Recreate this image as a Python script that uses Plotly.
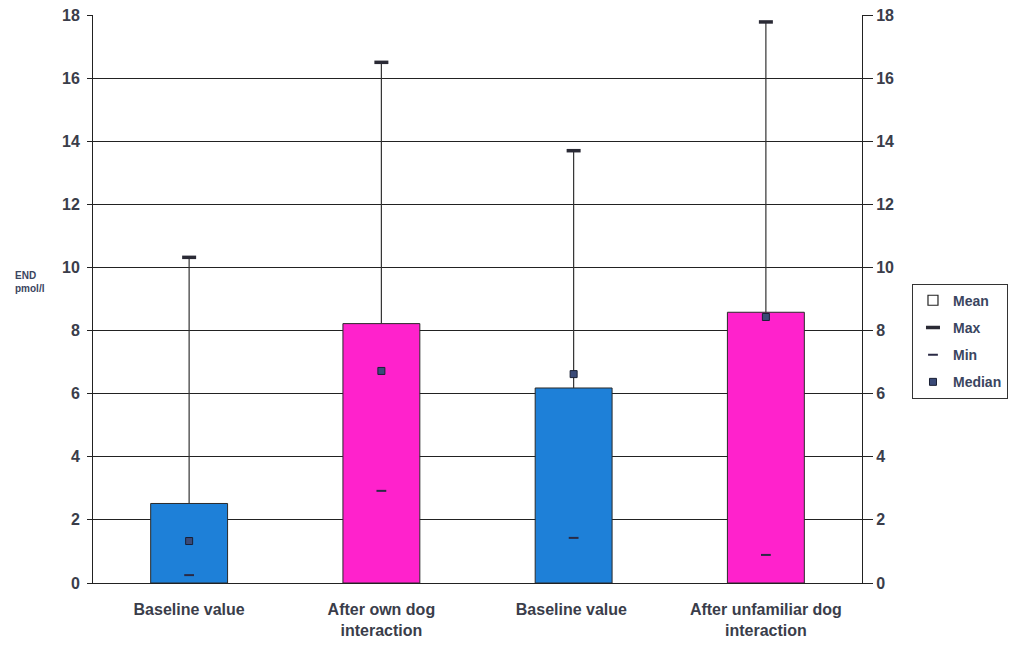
import plotly.graph_objects as go

# END (pmol/l) per condition
categories = ["Baseline value", "After own dog<br>interaction",
              "Baseline value ", "After unfamiliar dog<br>interaction"]
mean_vals = [2.52, 8.22, 6.18, 8.58]
max_vals = [10.32, 16.5, 13.7, 17.78]
min_vals = [0.25, 2.92, 1.43, 0.89]
median_vals = [1.33, 6.72, 6.62, 8.43]
bar_colors = ["#1e80d8", "#ff22cc", "#1e80d8", "#ff22cc"]
y_ticks = list(range(0, 19, 2))

text_col = "#3a3d4a"
font_main = "Liberation Sans, Arial, sans-serif"

fig = go.Figure()

# mean bars
fig.add_trace(go.Bar(
    x=categories, y=mean_vals, width=0.4,
    marker=dict(color=bar_colors, line=dict(color="#2a2a2a", width=1)),
    showlegend=False, hoverinfo="y",
))

# whiskers from mean up to max
wx, wy = [], []
for c, lo, hi in zip(categories, mean_vals, max_vals):
    wx += [c, c, None]
    wy += [lo, hi, None]
fig.add_trace(go.Scatter(x=wx, y=wy, mode="lines",
                         line=dict(color="#333333", width=1.2),
                         showlegend=False, hoverinfo="skip"))

# legend-only entry for the mean bars
fig.add_trace(go.Scatter(x=[None], y=[None], mode="markers", name="Mean",
                         legendgroup="a",
                         marker=dict(symbol="square", size=10, color="white",
                                     line=dict(color="#222", width=1.2))))

fig.add_trace(go.Scatter(x=categories, y=max_vals, mode="markers", name="Max",
                         legendgroup="b",
                         marker=dict(symbol="line-ew", size=10,
                                     line=dict(color="#2a2a35", width=3.5))))
fig.add_trace(go.Scatter(x=categories, y=min_vals, mode="markers", name="Min",
                         legendgroup="c",
                         marker=dict(symbol="line-ew", size=7,
                                     line=dict(color="#2a2a45", width=2))))
fig.add_trace(go.Scatter(x=categories, y=median_vals, mode="markers", name="Median",
                         legendgroup="d",
                         marker=dict(symbol="square", size=7, color="#3a4a78",
                                     line=dict(color="#1a2035", width=1))))

tick_font = dict(family=font_main, size=16, color=text_col, weight="bold")

fig.update_layout(
    width=1009, height=645,
    margin=dict(l=93, r=147, t=15, b=62, autoexpand=False),
    paper_bgcolor="white", plot_bgcolor="white",
    font=dict(family=font_main, color=text_col),
    xaxis=dict(
        showgrid=False, showline=True, linecolor="#222", linewidth=1,
        tickfont=tick_font, ticks="", range=[-0.5, 3.5],
        ticklabelstandoff=12, automargin=False,
    ),
    yaxis=dict(
        range=[0, 18], tickvals=y_ticks, showgrid=True, gridcolor="#222",
        gridwidth=1, showline=True, linecolor="#222", linewidth=1,
        ticks="outside", ticklen=5, tickcolor="#222", zeroline=False,
        tickfont=tick_font, automargin=False, ticklabelstandoff=4,
    ),
    yaxis2=dict(
        range=[0, 18], tickvals=y_ticks, overlaying="y", side="right",
        showgrid=False, showline=True, linecolor="#222", linewidth=1,
        ticks="outside", ticklen=10, tickcolor="#222", zeroline=False,
        tickfont=tick_font, automargin=False,
    ),
    legend=dict(
        x=1.065, y=0.527, xanchor="left", yanchor="top",
        bordercolor="#333", borderwidth=1, bgcolor="white",
        font=dict(family=font_main, size=14, color="#3a4560", weight="bold"),
        tracegroupgap=6, traceorder="grouped",
    ),
    annotations=[dict(
        text="END<br>pmol/l", xref="paper", yref="paper",
        x=-0.06, y=0.555, xanchor="right", yanchor="top", showarrow=False,
        align="left",
        font=dict(family=font_main, size=10, color="#3a4560", weight="bold"),
    )],
)

# invisible trace to activate the right-hand axis
fig.add_trace(go.Scatter(x=[categories[0]], y=[0], yaxis="y2", mode="markers",
                         marker=dict(opacity=0), showlegend=False,
                         hoverinfo="skip"))

fig.write_html("out.html")
